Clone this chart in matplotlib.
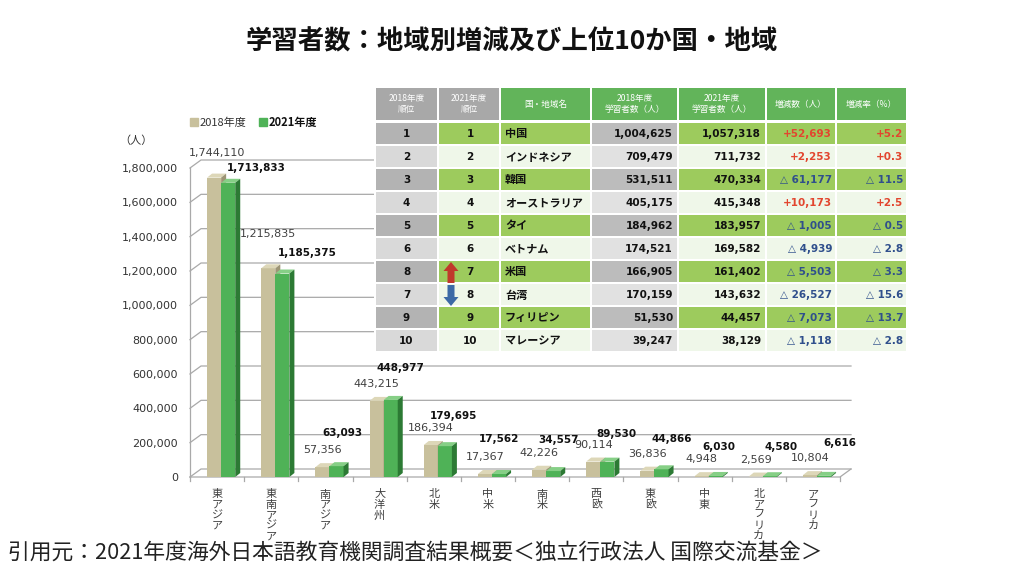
import matplotlib
matplotlib.use('Agg')
import matplotlib.pyplot as plt
from matplotlib.patches import Rectangle, Polygon
import numpy as np

# ---------------- data ----------------
regions = ["東アジア", "東南アジア", "南アジア", "大洋州", "北米", "中米", "南米",
           "西欧", "東欧", "中東", "北アフリカ", "アフリカ"]
learners_2018 = [1744110, 1215835, 57356, 443215, 186394, 17367, 42226,
                 90114, 36836, 4948, 2569, 10804]
learners_2021 = [1713833, 1185375, 63093, 448977, 179695, 17562, 34557,
                 89530, 44866, 6030, 4580, 6616]
y_ticks = [0, 200000, 400000, 600000, 800000, 1000000, 1200000, 1400000, 1600000, 1800000]

rank_2018 = [1, 2, 3, 4, 5, 6, 8, 7, 9, 10]
rank_2021 = [1, 2, 3, 4, 5, 6, 7, 8, 9, 10]
countries = ["中国", "インドネシア", "韓国", "オーストラリア", "タイ", "ベトナム",
             "米国", "台湾", "フィリピン", "マレーシア"]
country_2018 = [1004625, 709479, 531511, 405175, 184962, 174521, 166905, 170159, 51530, 39247]
country_2021 = [1057318, 711732, 470334, 415348, 183957, 169582, 161402, 143632, 44457, 38129]
change_num = [52693, 2253, -61177, 10173, -1005, -4939, -5503, -26527, -7073, -1118]
change_rate = [5.2, 0.3, -11.5, 2.5, -0.5, -2.8, -3.3, -15.6, -13.7, -2.8]
rank_move = [0, 0, 0, 0, 0, 0, 1, -1, 0, 0]

headers = ["2018年度\n順位", "2021年度\n順位", "国・地域名", "2018年度\n学習者数（人）",
           "2021年度\n学習者数（人）", "増減数（人）", "増減率（%）"]
title = "学習者数：地域別増減及び上位10か国・地域"
caption = "引用元：2021年度海外日本語教育機関調査結果概要＜独立行政法人 国際交流基金＞"

# label offsets (pixels: dx, dy above bar top) - style only
off18 = [(3, 25), (0, 34)] + [(0, 17)] * 10
off21 = [(28, 15), (25, 21), (6, 33), (10, 32), (9, 30), (0, 35), (5, 31),
         (9, 28), (10, 30), (3, 29), (11, 29), (16, 33)]

# ---------------- style ----------------
plt.rcParams['font.family'] = ['DejaVu Sans', 'Noto Sans CJK JP']
JP = ['Noto Sans CJK JP', 'DejaVu Sans']
BEIGE, BEIGE_TOP, BEIGE_SIDE = '#c8c09c', '#ddd7b8', '#9d9575'
GREEN, GREEN_TOP, GREEN_SIDE = '#4fb257', '#86cf86', '#2c7a34'
GRID = '#a9a9a9'

W, H = 1024, 576
fig = plt.figure(figsize=(W / 100, H / 100), dpi=100)
fig.patch.set_facecolor('white')

AX_L, AX_R, AX_B, AX_T = 190, 840, 477, 168
ax = fig.add_axes([AX_L / W, 1 - AX_B / H, (AX_R - AX_L) / W, (AX_B - AX_T) / H])
n = len(regions)
ax.set_xlim(-0.5, n - 0.5)
ax.set_ylim(0, y_ticks[-1])
for s in ax.spines.values():
    s.set_visible(False)
ax.patch.set_alpha(0)

ux = n / (AX_R - AX_L)            # data units per pixel (x)
uy = y_ticks[-1] / (AX_B - AX_T)  # data units per pixel (y)

# back wall gridlines with slanted ticks
wdx, wdy = 11 * ux, 8 * uy
x0, x1 = -0.5, n - 0.5
for v in y_ticks:
    ax.plot([x0, x0 + wdx, x1 + wdx], [v, v + wdy, v + wdy], color=GRID, lw=0.9,
            clip_on=False, zorder=1)
ax.plot([x0, x0], [0, y_ticks[-1]], color=GRID, lw=0.9, clip_on=False, zorder=1)
ax.plot([x0, x1, x1 + wdx], [0, 0, wdy], color=GRID, lw=0.9, clip_on=False, zorder=1)
for k in range(n + 1):
    ax.plot([k - 0.5, k - 0.5], [0, -4 * uy], color=GRID, lw=0.9, clip_on=False, zorder=1)

ax.set_yticks(y_ticks)
ax.set_yticklabels([f"{v:,}" for v in y_ticks])
ax.tick_params(axis='y', length=0, pad=8.5, labelsize=8, labelcolor='#333333')
ax.set_xticks(np.arange(n))
ax.set_xticklabels(["\n".join(r) for r in regions])
ax.tick_params(axis='x', length=0, pad=9, labelsize=8, labelcolor='#404040')
for lbl in ax.get_xticklabels():
    lbl.set_family(JP)
    lbl.set_linespacing(1.05)

# bars
bw = 0.26
xs = np.arange(n)
x18 = xs - 0.055
x21 = xs + 0.205
bdx, bdy = 5 * ux, 4 * uy


def draw_bars(xc, vals, front, top, side, z):
    ax.bar(xc, vals, bw, color=front, zorder=z, linewidth=0)
    for x, h in zip(xc, vals):
        l, r = x - bw / 2, x + bw / 2
        ax.add_patch(Polygon([(l, h), (r, h), (r + bdx, h + bdy), (l + bdx, h + bdy)],
                             closed=True, color=top, zorder=z, lw=0))
        ax.add_patch(Polygon([(r, 0), (r + bdx, bdy), (r + bdx, h + bdy), (r, h)],
                             closed=True, color=side, zorder=z, lw=0))


draw_bars(x18, learners_2018, BEIGE, BEIGE_TOP, BEIGE_SIDE, 3)
draw_bars(x21, learners_2021, GREEN, GREEN_TOP, GREEN_SIDE, 4)

for i in range(n):
    dx, dy = off18[i]
    ax.annotate(f"{learners_2018[i]:,}", (x18[i], learners_2018[i]), xytext=(dx, dy),
                textcoords='offset pixels', ha='center', va='center', fontsize=8,
                color='#404040', annotation_clip=False, zorder=6)
    dx, dy = off21[i]
    ax.annotate(f"{learners_2021[i]:,}", (x21[i], learners_2021[i]), xytext=(dx, dy),
                textcoords='offset pixels', ha='center', va='center', fontsize=7.5,
                fontweight='bold', color='#111111', annotation_clip=False, zorder=6)

# ---------------- overlay (pixel coordinates) ----------------
ov = fig.add_axes([0, 0, 1, 1], zorder=5)
ov.set_xlim(0, W)
ov.set_ylim(H, 0)
ov.axis('off')
ov.patch.set_alpha(0)

ov.text(512, 42, title, ha='center', va='center', fontsize=19, fontweight='bold',
        family=JP, color='#111111')
ov.text(8, 553, caption, ha='left', va='center', fontsize=15.7, family=JP, color='#222222')

# legend
ov.add_patch(Rectangle((190, 118), 8, 8, color=BEIGE))
ov.text(200, 122.5, "2018年度", ha='left', va='center', fontsize=8, color='#333333', family=JP)
ov.add_patch(Rectangle((259, 118), 8, 8, color=GREEN))
ov.text(269, 122.5, "2021年度", ha='left', va='center', fontsize=8, fontweight='bold',
        color='#111111', family=JP)
ov.text(136, 141, "（人）", ha='center', va='center', fontsize=8, color='#333333', family=JP)

# table
cols = [375, 438, 500, 591, 678, 766, 836, 907]
head_top, head_bot = 87, 121
row_h = 23
HEAD_GRAY, HEAD_GREEN = '#a8a8a8', '#62b45a'
ROW_G = {'c1': '#b3b3b3', 'g': '#9dcb5d', 'c4': '#bcbcbc'}
ROW_L = {'c1': '#d9d9d9', 'g': '#eff7e9', 'c4': '#e1e1e1'}

ov.add_patch(Rectangle((cols[0] - 1, head_top - 1), cols[-1] - cols[0] + 2,
                       head_bot - head_top + row_h * len(countries) + 4,
                       color='white', lw=0))

for c in range(7):
    fc = HEAD_GRAY if c < 2 else HEAD_GREEN
    ov.add_patch(Rectangle((cols[c] + 1, head_top + 1), cols[c + 1] - cols[c] - 2,
                           head_bot - head_top - 2, color=fc, lw=0))
    ov.text((cols[c] + cols[c + 1]) / 2, (head_top + head_bot) / 2, headers[c],
            ha='center', va='center', fontsize=6.2, color='white', family=JP,
            linespacing=1.3)

for r in range(len(countries)):
    y0 = head_bot + 1 + r * row_h
    pal = ROW_G if r % 2 == 0 else ROW_L
    for c in range(7):
        fc = pal['c1'] if c == 0 else (pal['c4'] if c == 3 else pal['g'])
        ov.add_patch(Rectangle((cols[c] + 1, y0 + 1), cols[c + 1] - cols[c] - 2,
                               row_h - 2, color=fc, lw=0))
    yc = y0 + row_h / 2 + 0.5
    ov.text((cols[0] + cols[1]) / 2, yc, str(rank_2018[r]), ha='center', va='center',
            fontsize=7.5, fontweight='bold', color='#111111')
    ov.text((cols[1] + cols[2]) / 2 + 1, yc, str(rank_2021[r]), ha='center', va='center',
            fontsize=7.5, fontweight='bold', color='#111111')
    ov.text(cols[2] + 5, yc, countries[r], ha='left', va='center', fontsize=8,
            fontweight='bold', color='#111111', family=JP)
    ov.text(cols[4] - 5, yc, f"{country_2018[r]:,}", ha='right', va='center',
            fontsize=7.5, fontweight='bold', color='#111111')
    ov.text(cols[5] - 5, yc, f"{country_2021[r]:,}", ha='right', va='center',
            fontsize=7.5, fontweight='bold', color='#111111')
    cn = change_num[r]
    cr = change_rate[r]
    if cn >= 0:
        s1, col1 = f"+{cn:,}", '#e2462f'
    else:
        s1, col1 = f"△ {-cn:,}", '#2f4f8c'
    if cr >= 0:
        s2, col2 = f"+{cr:.1f}", '#e2462f'
    else:
        s2, col2 = f"△ {-cr:.1f}", '#2f4f8c'
    ov.text(cols[6] - 4, yc, s1, ha='right', va='center', fontsize=7.5,
            fontweight='bold', color=col1)
    ov.text(cols[7] - 4, yc, s2, ha='right', va='center', fontsize=7.5,
            fontweight='bold', color=col2)
    # rank movement arrows
    if rank_move[r] != 0:
        ax_c = 451
        top, bot = y0 + 2, y0 + row_h
        if rank_move[r] > 0:
            pts = [(ax_c, top), (ax_c + 7.5, top + 9), (ax_c + 3.5, top + 9), (ax_c + 3.5, bot),
                   (ax_c - 3.5, bot), (ax_c - 3.5, top + 9), (ax_c - 7.5, top + 9)]
            ov.add_patch(Polygon(pts, closed=True, color='#c0392b', lw=0))
        else:
            pts = [(ax_c, bot), (ax_c + 7.5, bot - 9), (ax_c + 3.5, bot - 9), (ax_c + 3.5, top),
                   (ax_c - 3.5, top), (ax_c - 3.5, bot - 9), (ax_c - 7.5, bot - 9)]
            ov.add_patch(Polygon(pts, closed=True, color='#3d6aa6', lw=0))

fig.savefig('out.png', dpi=100, facecolor='white')
